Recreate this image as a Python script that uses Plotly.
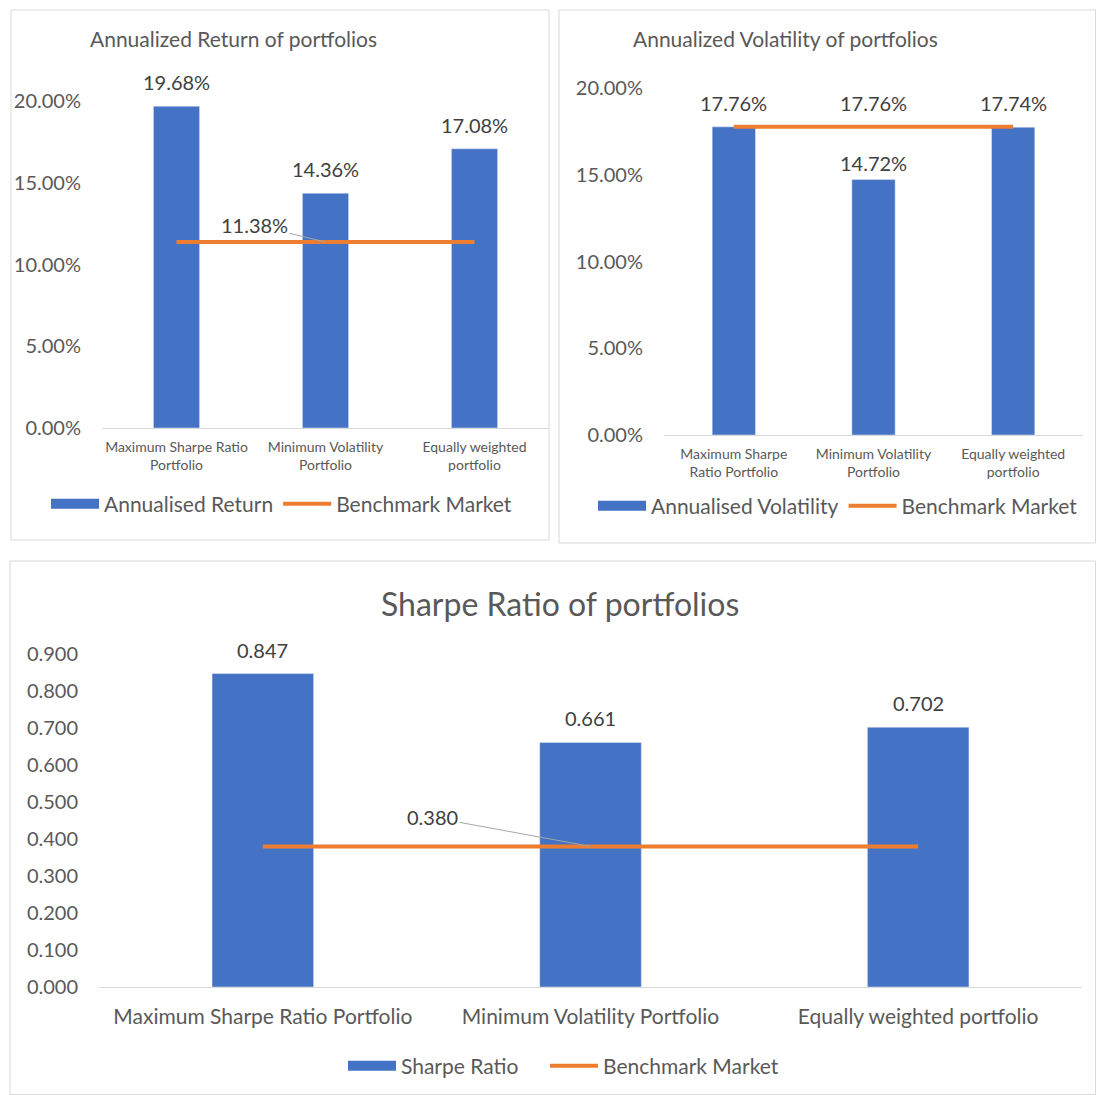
import plotly.graph_objects as go

W, H = 1096, 1095

# ---------------- data ----------------
cats_ret = ["Maximum Sharpe Ratio<br>Portfolio", "Minimum Volatility<br>Portfolio", "Equally weighted<br>portfolio"]
ret_values = [0.1968, 0.1436, 0.1708]
ret_bench = [0.1138, 0.1138, 0.1138]

cats_vol = ["Maximum Sharpe<br>Ratio Portfolio", "Minimum Volatility<br>Portfolio", "Equally weighted<br>portfolio"]
vol_values = [0.1776, 0.1472, 0.1774]
vol_bench = [0.1776, 0.1776, 0.1776]

cats_sr = ["Maximum Sharpe Ratio Portfolio", "Minimum Volatility Portfolio", "Equally weighted portfolio"]
sr_values = [0.847, 0.661, 0.702]
sr_bench = [0.380, 0.380, 0.380]

ret_ticks = [0, 0.05, 0.10, 0.15, 0.20]
sr_ticks = [0, 0.1, 0.2, 0.3, 0.4, 0.5, 0.6, 0.7, 0.8, 0.9]

BLUE = "#4472C4"
ORANGE = "#ED7D31"
GRID = "#D9D9D9"
TXT = "#595959"
LBL = "#404040"
FONT = "Lato"


def px(x):
    return x / W


def py(y):
    return 1 - y / H


fig = go.Figure()

panels = [
    dict(ax="", cats=cats_ret, vals=ret_values, bench=ret_bench, fmt="{:.2%}",
         name="Annualised Return", legend="legend", legend_b="legend", shifts=[24, 24, 24]),
    dict(ax="2", cats=cats_vol, vals=vol_values, bench=vol_bench, fmt="{:.2%}",
         name="Annualised Volatility", legend="legend2", legend_b="legend2", shifts=[24, 17, 24]),
    dict(ax="3", cats=cats_sr, vals=sr_values, bench=sr_bench, fmt="{:.3f}",
         name="Sharpe Ratio", legend="legend3", legend_b="legend4", shifts=[24, 24, 24]),
]

annotations = []
for i, p in enumerate(panels):
    xa, ya = "x" + p["ax"], "y" + p["ax"]
    fig.add_trace(go.Bar(x=p["cats"], y=p["vals"], marker_color=BLUE, width=0.31,
                         showlegend=False, xaxis=xa, yaxis=ya, hoverinfo="y"))
    # legend swatch for bars (wide rectangle like Excel)
    fig.add_trace(go.Scatter(x=[None], y=[None], mode="lines", name=p["name"],
                             line=dict(color=BLUE, width=13), xaxis=xa, yaxis=ya,
                             legend=p["legend"]))
    fig.add_trace(go.Scatter(x=p["cats"], y=p["bench"], mode="lines", name="Benchmark Market",
                             line=dict(color=ORANGE, width=4), xaxis=xa, yaxis=ya,
                             legend=p["legend_b"], cliponaxis=False))
    for c, v, s in zip(p["cats"], p["vals"], p["shifts"]):
        annotations.append(dict(x=c, y=v, xref=xa, yref=ya, text=p["fmt"].format(v),
                                showarrow=False, yshift=s, yanchor="middle", xanchor="center",
                                font=dict(family=FONT, size=20, color=LBL)))

# benchmark labels
annotations.append(dict(x=cats_ret[1], y=ret_bench[1], xref="x", yref="y",
                        text="{:.2%}".format(ret_bench[1]), showarrow=True, arrowhead=0,
                        arrowwidth=1, arrowcolor="#A6A6A6", ax=-71, ay=-17, standoff=0,
                        font=dict(family=FONT, size=20, color=LBL)))
annotations.append(dict(x=cats_vol[1], y=vol_bench[1], xref="x2", yref="y2",
                        text="{:.2%}".format(vol_bench[1]), showarrow=False, yshift=24,
                        yanchor="middle", xanchor="center",
                        font=dict(family=FONT, size=20, color=LBL)))
annotations.append(dict(x=cats_sr[1], y=sr_bench[1], xref="x3", yref="y3",
                        text="{:.3f}".format(sr_bench[1]), showarrow=True, arrowhead=0,
                        arrowwidth=1, arrowcolor="#A6A6A6", ax=-158, ay=-29, standoff=0,
                        font=dict(family=FONT, size=20, color=LBL)))

# titles
annotations.append(dict(x=px(233), y=py(38), xref="paper", yref="paper", showarrow=False,
                        xanchor="center", yanchor="middle",
                        text="Annualized Return of portfolios",
                        font=dict(family=FONT, size=21, color=TXT)))
annotations.append(dict(x=px(785), y=py(38), xref="paper", yref="paper", showarrow=False,
                        xanchor="center", yanchor="middle",
                        text="Annualized Volatility of portfolios",
                        font=dict(family=FONT, size=21, color=TXT)))
annotations.append(dict(x=px(560), y=py(603), xref="paper", yref="paper", showarrow=False,
                        xanchor="center", yanchor="middle",
                        text="Sharpe Ratio of portfolios",
                        font=dict(family=FONT, size=32, color=TXT)))

shapes = [
    dict(type="rect", xref="paper", yref="paper", x0=px(11), x1=px(549), y0=py(540), y1=py(10),
         line=dict(color=GRID, width=1)),
    dict(type="rect", xref="paper", yref="paper", x0=px(559), x1=px(1095.5), y0=py(543), y1=py(10),
         line=dict(color=GRID, width=1)),
    dict(type="rect", xref="paper", yref="paper", x0=px(10), x1=px(1095.5), y0=py(1094.5), y1=py(561),
         line=dict(color=GRID, width=1)),
]


def xaxis(dom, anchor, size, standoff):
    return dict(domain=dom, anchor=anchor, type="category", range=[-0.5, 2.5],
                showgrid=False, zeroline=False, showline=True, linecolor=GRID, linewidth=1,
                ticks="", tickfont=dict(family=FONT, size=size, color=TXT),
                ticklabelstandoff=standoff, fixedrange=True)


def yaxis(dom, anchor, rng, tickvals, fmt, size):
    return dict(domain=dom, anchor=anchor, range=rng, tickvals=tickvals, tickformat=fmt,
                showgrid=False, zeroline=False, showline=False, ticks="",
                tickfont=dict(family=FONT, size=size, color=TXT), ticklabelstandoff=20,
                fixedrange=True)


legend_common = dict(orientation="h", bgcolor="rgba(0,0,0,0)", itemwidth=48,
                     xanchor="left", yanchor="middle", tracegroupgap=0)

fig.update_layout(
    width=W, height=H,
    margin=dict(l=0, r=0, t=0, b=0, pad=0, autoexpand=False),
    paper_bgcolor="white", plot_bgcolor="white",
    font=dict(family=FONT, color=TXT),
    xaxis=xaxis([px(102), px(549)], "y", 14, 6),
    yaxis=yaxis([py(428), py(101)], "x", [0, 0.2], ret_ticks, ".2%", 20),
    xaxis2=xaxis([px(664), px(1083)], "y2", 14, 6),
    yaxis2=yaxis([py(435), py(88)], "x2", [0, 0.2], ret_ticks, ".2%", 20),
    xaxis3=xaxis([px(99), px(1082)], "y3", 21, 11),
    yaxis3=yaxis([py(987), py(654)], "x3", [0, 0.9], sr_ticks, ".3f", 20),
    legend=dict(x=px(46), y=py(504), font=dict(family=FONT, size=21, color=TXT), **legend_common),
    legend2=dict(x=px(593), y=py(506), font=dict(family=FONT, size=21, color=TXT), **legend_common),
    legend3=dict(x=px(343), y=py(1066), font=dict(family=FONT, size=21, color=TXT), **legend_common),
    legend4=dict(x=px(545), y=py(1066), font=dict(family=FONT, size=21, color=TXT), **legend_common),
    annotations=annotations,
    shapes=shapes,
    bargap=0.69,
)

fig.write_html("out.html")
